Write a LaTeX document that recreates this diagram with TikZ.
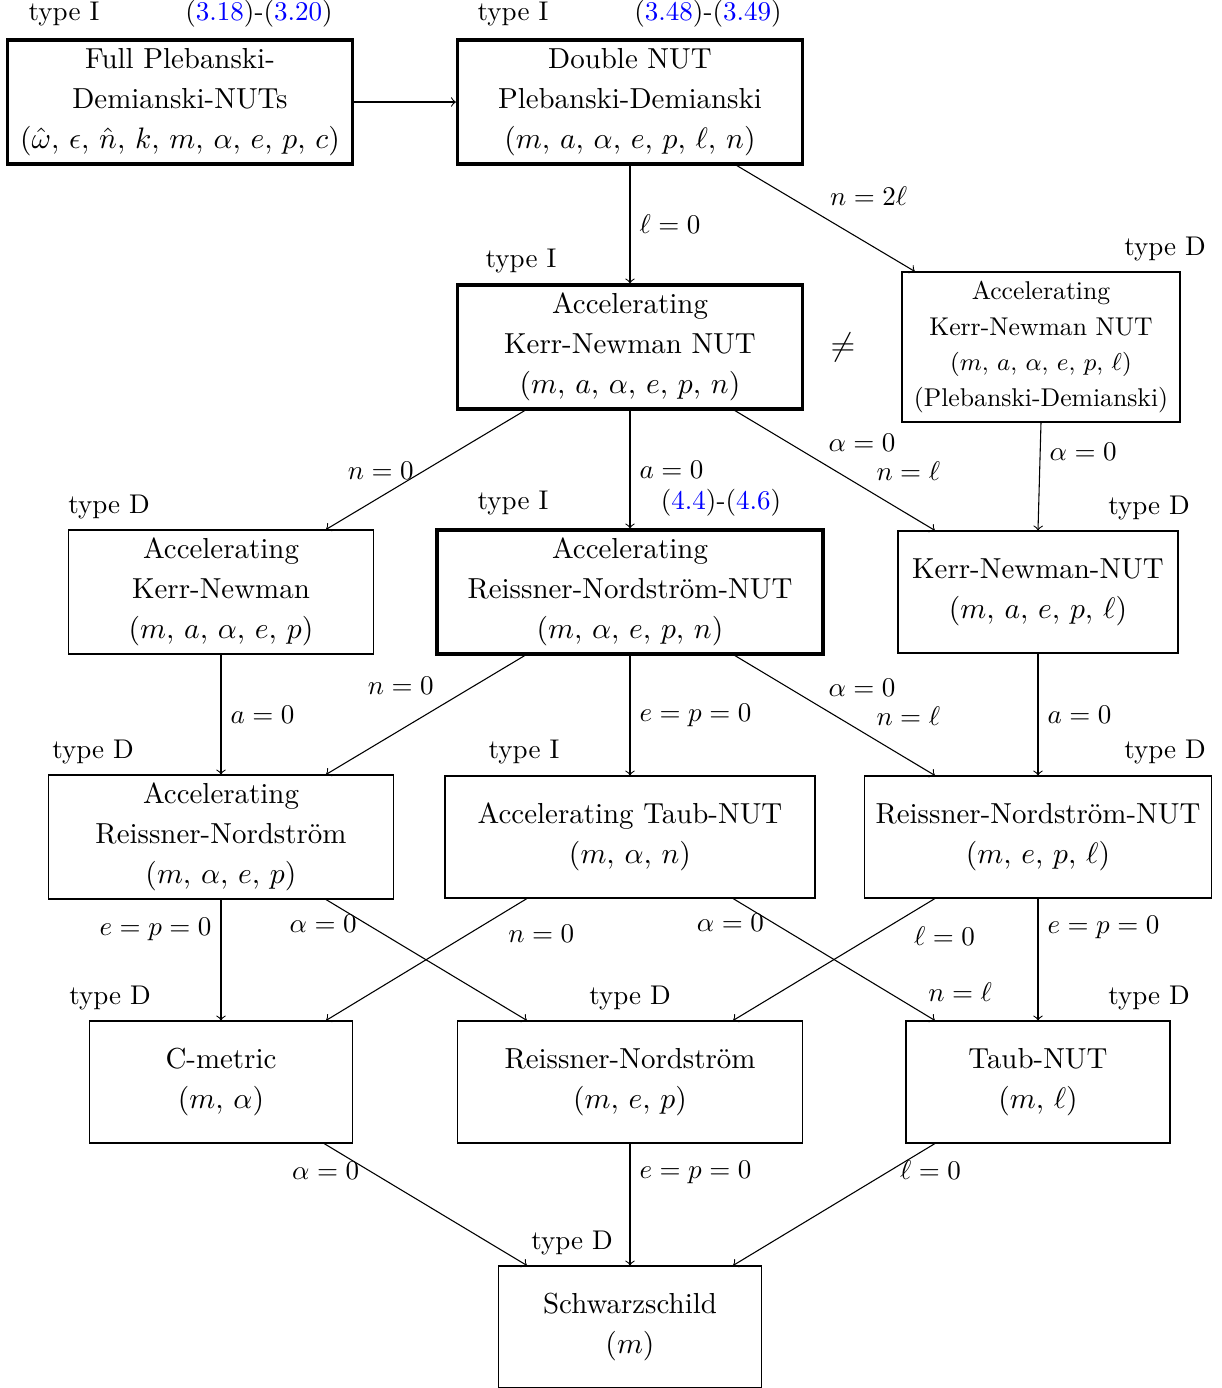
\documentclass[tikz,border=0pt]{standalone}
\usepackage{amsmath,amssymb}
\usepackage{fontspec}
\usepackage{tikz}
\usetikzlibrary{calc}
\usetikzlibrary{arrows,shapes,positioning}
\tikzset{>=to}
\tikzset{box/.style={draw,align=center,inner sep=2pt,font=\fontsize{10.7}{14.8}\selectfont}}
\tikzset{bigbox/.style={box,very thick}}
\tikzset{cond/.style={font=\fontsize{10}{12}\selectfont}}
\newcommand{\eqlink}[1]{\textcolor{blue}{#1}}

\begin{document}
\begin{tikzpicture} [x=0.013cm,y=-0.013cm]
        \useasboundingbox (0,0) rectangle (1221,1388);
        \node [bigbox,minimum width=4.485cm,minimum height=1.612cm] (fpd) at (180,102) {Full Plebanski-\\Demianski-NUTs\\$(\hat\omega,\,\epsilon,\,\hat n,\,k,\,m,\,\alpha,\,e,\,p,\,c)$};
        \node [bigbox,minimum width=4.485cm,minimum height=1.612cm] (dnpd) at (630,102) {Double NUT\\Plebanski-Demianski\\$(m,\,a,\,\alpha,\,e,\,p,\,\ell,\,n)$};
        \node [bigbox,minimum width=4.485cm,minimum height=1.612cm] (ak) at (630,347) {Accelerating\\Kerr-Newman NUT\\$(m,\,a,\,\alpha,\,e,\,p,\,n)$};
        \node [box,minimum width=3.614cm,minimum height=1.95cm,font=\fontsize{9.5}{13.3}\selectfont] (akpd) at (1041,347) {Accelerating\\Kerr-Newman NUT\\$(m,\,a,\,\alpha,\,e,\,p,\,\ell)$\\(Plebanski-Demianski)};
        \node [box,minimum width=3.965cm,minimum height=1.612cm] (akn) at (221,592) {Accelerating\\Kerr-Newman\\$(m,\,a,\,\alpha,\,e,\,p)$};
        \node [bigbox,minimum width=5.018cm,minimum height=1.612cm] (arnn) at (630,592) {Accelerating\\Reissner-Nordström-NUT\\$(m,\,\alpha,\,e,\,p,\,n)$};
        \node [box,minimum width=3.64cm,minimum height=1.586cm] (knn) at (1038,592) {Kerr-Newman-NUT\\$(m,\,a,\,e,\,p,\,\ell)$};
        \node [box,minimum width=4.485cm,minimum height=1.612cm] (arn) at (221,837) {Accelerating\\Reissner-Nordström\\$(m,\,\alpha,\,e,\,p)$};
        \node [box,minimum width=4.81cm,minimum height=1.586cm] (atn) at (630,837) {Accelerating Taub-NUT\\$(m,\,\alpha,\,n)$};
        \node [box,minimum width=4.5cm,minimum height=1.586cm] (rnn) at (1038,837) {Reissner-Nordström-NUT\\$(m,\,e,\,p,\,\ell)$};
        \node [box,minimum width=3.419cm,minimum height=1.586cm] (cm) at (221,1082) {C-metric\\$(m,\,\alpha)$};
        \node [box,minimum width=4.485cm,minimum height=1.586cm] (rn) at (630,1082) {Reissner-Nordström\\$(m,\,e,\,p)$};
        \node [box,minimum width=3.432cm,minimum height=1.586cm] (tn) at (1038,1082) {Taub-NUT\\$(m,\,\ell)$};
        \node [box,minimum width=3.419cm,minimum height=1.586cm] (ss) at (630,1327) {Schwarzschild\\$(m)$};

        \node [cond] (tfpd) at (64,14) {type I};
        \node [cond] (efpd) at (259,14) {(\eqlink{3.18})-(\eqlink{3.20})};
        \node [cond] (tdnpd) at (513,14) {type I};
        \node [cond] (ednpd) at (708,14) {(\eqlink{3.48})-(\eqlink{3.49})};
        \node [cond] (tak) at (521,261) {type I};
        \node [cond] (takpd) at (1165,249) {type D};
        \node [cond] (takn) at (109,507) {type D};
        \node [cond] (tarnn) at (513,503) {type I};
        \node [cond] (earnn) at (721,503) {(\eqlink{4.4})-(\eqlink{4.6})};
        \node [cond] (tknn) at (1149,508) {type D};
        \node [cond] (tarn) at (93,752) {type D};
        \node [cond] (tatn) at (524,752) {type I};
        \node [cond] (trnn) at (1165,752) {type D};
        \node [cond] (tcm) at (110,998) {type D};
        \node [cond] (trn) at (630,998) {type D};
        \node [cond] (ttn) at (1149,998) {type D};
        \node [cond] (tss) at (572,1243) {type D};
        \node [font=\large] (neq) at (843,347) {$\neq$};

        \draw [->] (fpd.east) -- (dnpd.west);
        \draw [->] (dnpd.south) -- (ak.north) node [cond,midway,right] {$\ell=0$};
        \draw [->] ([xshift=1.39cm]dnpd.south) -- ([xshift=-1.64cm]akpd.north) node [cond,pos=0.47,above right] {$n=2\ell$};

        \draw [->] ([xshift=-1.37cm]ak.south) -- ([xshift=1.365cm]akn.north) node [cond,pos=0.51,left] {$n=0$};
        \draw [->] (ak.south) -- (arnn.north) node [cond,midway,right] {$a=0$};
        \draw [->] ([xshift=1.365cm]ak.south) -- ([xshift=-1.34cm]knn.north) node [cond,pos=0.42,above right] {$\alpha=0$} node [cond,pos=0.66,above right] {$n=\ell$};
        \draw [->] (akpd.south) -- (knn.north) node [cond,pos=0.27,right] {$\alpha=0$};

        \draw [->] (akn.south) -- (arn.north) node [cond,midway,right] {$a=0$};
        \draw [->] ([xshift=-1.37cm]arnn.south) -- ([xshift=1.365cm]arn.north) node [cond,pos=0.41,above left] {$n=0$};
        \draw [->] (arnn.south) -- (atn.north) node [cond,midway,right] {$e=p=0$};
        \draw [->] ([xshift=1.365cm]arnn.south) -- ([xshift=-1.34cm]rnn.north) node [cond,pos=0.42,above right] {$\alpha=0$} node [cond,pos=0.66,above right] {$n=\ell$};
        \draw [->] (knn.south) -- (rnn.north) node [cond,midway,right] {$a=0$};

        \draw [->] (arn.south) -- (cm.north) node [cond,pos=0.25,left] {$e=p=0$};
        \draw [->] ([xshift=1.365cm]arn.south) -- ([xshift=-1.34cm]rn.north) node [cond,pos=0.2,left] {$\alpha=0$};
        \draw [->] ([xshift=-1.34cm]atn.south) -- ([xshift=1.365cm]cm.north) node [cond,pos=0.14,below right] {$n=0$};
        \draw [->] ([xshift=1.34cm]atn.south) -- ([xshift=-1.34cm]tn.north) node [cond,pos=0.2,left] {$\alpha=0$} node [cond,pos=0.92,above right] {$n=\ell$};
        \draw [->] ([xshift=-1.34cm]rnn.south) -- ([xshift=1.34cm]rn.north) node [cond,pos=0.15,below right] {$\ell=0$};
        \draw [->] (rnn.south) -- (tn.north) node [cond,pos=0.24,right] {$e=p=0$};

        \draw [->] ([xshift=1.34cm]cm.south) -- ([xshift=-1.34cm]ss.north) node [cond,pos=0.22,left] {$\alpha=0$};
        \draw [->] (rn.south) -- (ss.north) node [cond,pos=0.24,right] {$e=p=0$};
        \draw [->] ([xshift=-1.34cm]tn.south) -- ([xshift=1.34cm]ss.north) node [cond,pos=0.22,right] {$\ell=0$};
      \end{tikzpicture}
\end{document}
